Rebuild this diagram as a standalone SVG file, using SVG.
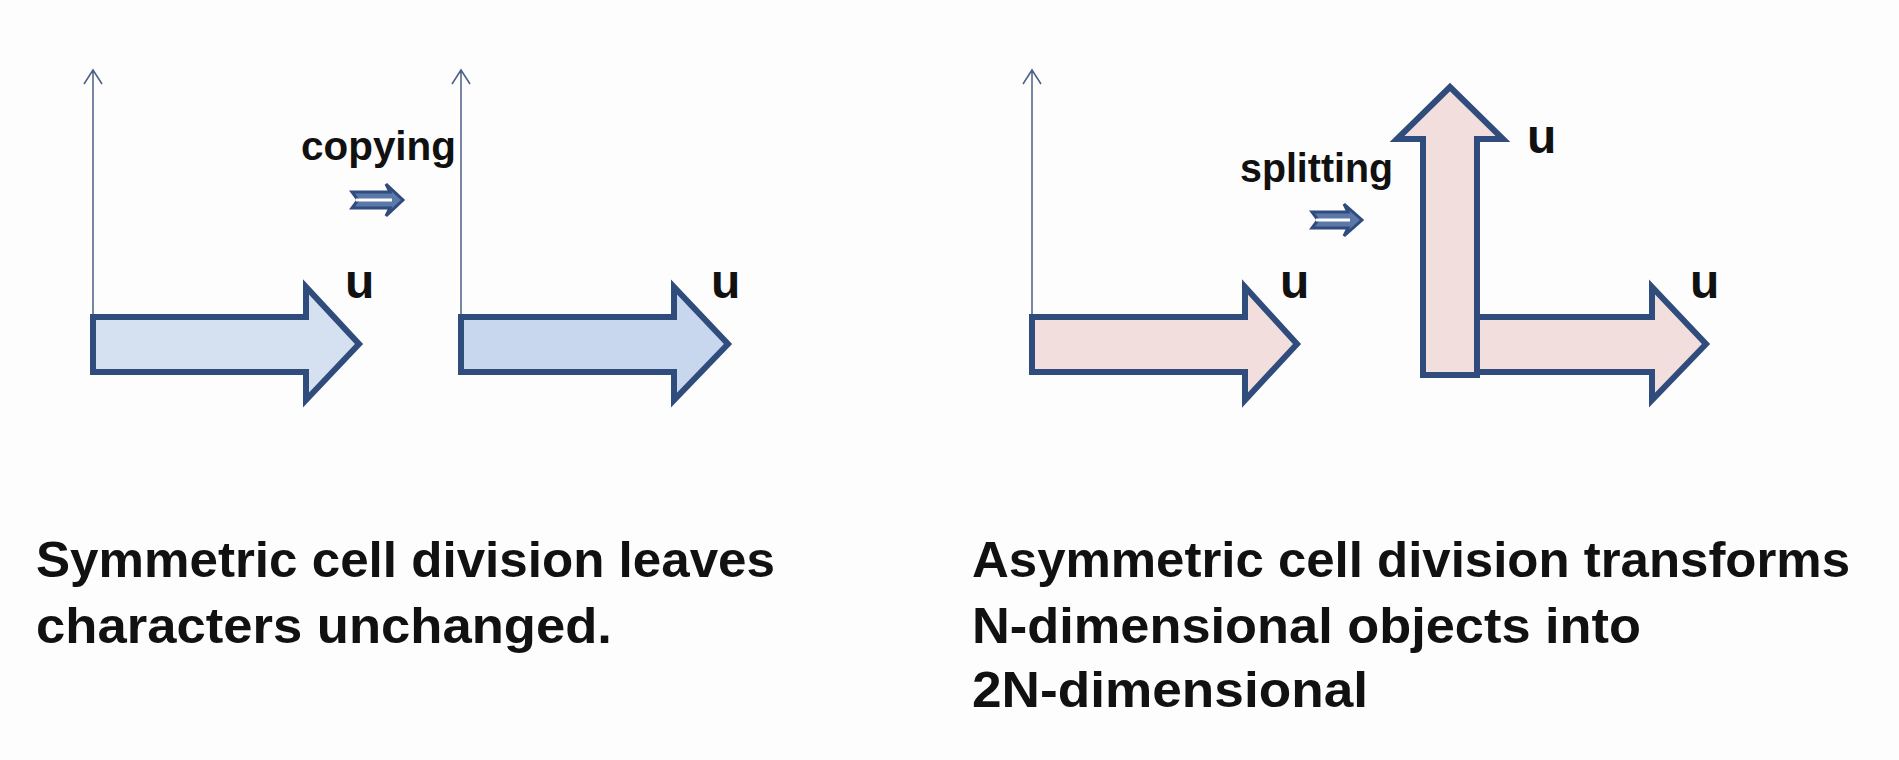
<svg xmlns="http://www.w3.org/2000/svg" width="1899" height="760" viewBox="0 0 1899 760">
<style>
.axis{stroke:#4a5f85;stroke-width:1.5;fill:none}
.blk{stroke:#2f4c7c;stroke-width:6;stroke-linejoin:miter}
.blue{fill:#d5e0f0}
.blue2{fill:#c8d7ee}
.pink{fill:#f2dedc}
.t{font-family:"Liberation Sans",Arial,sans-serif;font-weight:bold;fill:#111}
.big{font-size:50px}
.u{font-size:48px}
.lbl{font-size:40px}
</style>
<rect width="1899" height="760" fill="#fdfdfd"/>
<g id="connectors">
<path class="axis" d="M93 315 V70 M84 84 L93 70 L102 84"/>
<path class="axis" d="M461 315 V70 M452 84 L461 70 L470 84"/>
<path class="axis" d="M1032 315 V70 M1023 84 L1032 70 L1041 84"/>
</g>
<g id="arrow1"><polygon class="blk blue" points="93,317 306,317 306,287 359,344 306,400 306,372 93,372"/><text class="t u" x="345" y="298">u</text></g>
<g id="copying"><text class="t lbl" x="301" y="160" textLength="155" lengthAdjust="spacingAndGlyphs">copying</text>
<polygon class="blk" style="stroke-width:3;fill:#5b79a8" points="352,192 390,192 386,184 403,200 386,216 390,208 352,208 358,200"/><line x1="356" y1="200" x2="392" y2="200" stroke="#fff" stroke-width="3"/></g>
<g id="arrow2"><polygon class="blk blue2" points="461,317 674,317 674,287 728,344 674,400 674,372 461,372"/><text class="t u" x="711" y="298">u</text></g>
<g id="arrow3"><polygon class="blk pink" points="1032,317 1245,317 1245,287 1297,344 1245,400 1245,372 1032,372"/><text class="t u" x="1280" y="298">u</text></g>
<g id="splitting"><text class="t lbl" x="1240" y="182" textLength="153" lengthAdjust="spacingAndGlyphs">splitting</text>
<polygon class="blk" style="stroke-width:3;fill:#5b79a8" points="1312,212 1348,212 1344,204 1362,220 1344,236 1348,228 1312,228 1318,220"/><line x1="1316" y1="220" x2="1350" y2="220" stroke="#fff" stroke-width="3"/></g>
<g id="arrow4"><polygon class="blk pink" points="1477,317 1652,317 1652,287 1706,344 1652,400 1652,372 1477,372"/><text class="t u" x="1690" y="298">u</text></g>
<g id="arrow5"><polygon class="blk pink" points="1423,375 1423,139 1397,139 1450,87 1503,139 1477,139 1477,375"/><text class="t u" x="1527" y="153">u</text></g>
<g id="captions">
<text class="t big" x="36" y="577" textLength="739" lengthAdjust="spacingAndGlyphs">Symmetric cell division leaves</text>
<text class="t big" x="36" y="643" textLength="576" lengthAdjust="spacingAndGlyphs">characters  unchanged.</text>
<text class="t big" x="972" y="577" textLength="878" lengthAdjust="spacingAndGlyphs">Asymmetric cell division transforms</text>
<text class="t big" x="972" y="643" textLength="669" lengthAdjust="spacingAndGlyphs">N-dimensional objects into</text>
<text class="t big" x="972" y="707" textLength="396" lengthAdjust="spacingAndGlyphs">2N-dimensional</text>
</g>
</svg>
